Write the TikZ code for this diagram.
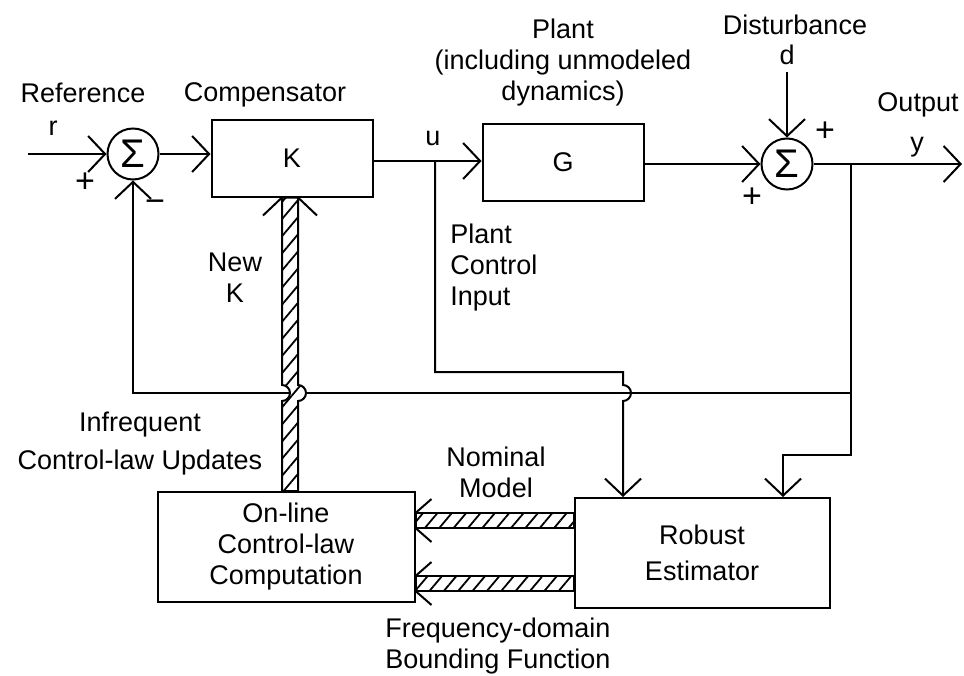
\documentclass[tikz,border=0pt]{standalone}
\usepackage{fontspec}
\setmainfont{Liberation Sans}
\usetikzlibrary{arrows.meta, calc, patterns.meta}

\tikzset{
  blk/.style={draw, line width=1pt, inner sep=0pt, minimum width=80.5pt, minimum height=38.5pt,
    font=\fontsize{13.5}{15.5}\selectfont, align=center},
  sumj/.style={draw, circle, line width=1pt, inner sep=0pt, minimum size=25.5pt,
    font=\fontsize{20}{20}\selectfont},
  wire/.style={line width=1pt},
  sig/.style={wire, -{Straight Barb[length=8.5pt, width=18pt]}},
  hatch/.style={draw, line width=1pt, preaction={fill=white},
    pattern={Lines[angle=50, distance=5.5pt, line width=0.9pt]}},
  lbl/.style={inner sep=0pt, align=center, font=\fontsize{13.5}{15.5}\selectfont},
  sgn/.style={inner sep=0pt, font=\fontsize{17}{17}\selectfont},
}

\begin{document}
\begin{tikzpicture}[x=0.5pt, y=-0.5pt]
  \useasboundingbox (0,0) rectangle (964,675);

  % blocks
  \node[sumj] (s1) at (133,154) {Σ};
  \node[blk] (K) at (292,158) {K};
  \node[blk] (G) at (563,162) {G};
  \node[sumj] (s2) at (787,164) {Σ};
  \node[blk, minimum width=128.5pt, minimum height=55pt] (on) at (286,547)
    {On-line\\Control-law\\Computation};
  \node[blk, minimum width=127.5pt, minimum height=55pt] (est) at (702,553)
    {Robust\\[2.5pt]Estimator};

  % free ends and corners
  \coordinate (r) at (28,154);
  \coordinate (d) at (787,72);
  \coordinate (yo) at (962,164);
  \coordinate (u) at (435,161);
  \coordinate (yb) at (851,164);
  \coordinate (fbl) at (133,393);
  \coordinate (fbr) at (851,393);
  \coordinate (uk) at (623,372);
  \coordinate (yk) at (783,455);

  % main loop
  \draw[sig] (r) -- (s1);
  \draw[sig] (s1) -- (K.west |- s1);
  \draw[wire] (K.east |- u) -- (u);
  \draw[sig] (u) -- (G.west |- u);
  \draw[sig] (G.east |- s2) -- (s2);
  \draw[sig] (d) -- (s2);
  \draw[sig] (s2) -- (yo);

  % feedback and estimator inputs
  \draw[sig] (fbr) -- (fbl) -- (s1);
  \draw[sig] (yb) |- (yk) -- (yk |- est.north);
  \draw[sig] (u) |- (uk) -- ($(uk |- fbl)+(0,-8)$)
    arc[start angle=90, end angle=-90, radius=4pt] -- (uk |- est.north);

  % hatched paths
  \coordinate (bl) at (282,0);
  \coordinate (br) at (298,0);
  \path[hatch] (bl |- on.north) -- (bl |- 0,401)
    arc[start angle=-90, end angle=90, radius=4pt] -- (bl |- K.south)
    -- (br |- K.south) -- (br |- 0,385)
    arc[start angle=90, end angle=-90, radius=4pt] -- (br |- on.north) -- cycle;
  \draw[wire] (bl |- K.south) -- ++(-19,18);
  \draw[wire] (br |- K.south) -- ++(19,18);
  \foreach \ya/\yb in {513/528, 576/591} {
    \path[hatch] (on.east |- 0,\ya) rectangle (est.west |- 0,\yb);
    \draw[wire] (on.east |- 0,\ya) -- ++(16,-14);
    \draw[wire] (on.east |- 0,\yb) -- ++(16,14);
  }

  % labels
  \node[lbl] (reflbl) at (83,93) {Reference};
  \node[lbl] (rlbl) at (53,128) {r};
  \node[sgn] (p1) at (85,183) {+};
  \node[sgn] (m1) at (155,206) {−};
  \node[lbl] (complbl) at (265,95) {Compensator};
  \node[lbl] (ulbl) at (433,138) {u};
  \node[lbl] (plantlbl) at (563,63) {Plant\\(including unmodeled\\dynamics)};
  \node[lbl] (distlbl) at (795,25) {Disturbance};
  \node[lbl] (dlbl) at (787,55) {d};
  \node[sgn] (p2) at (825,132) {+};
  \node[sgn] (p3) at (752,198) {+};
  \node[lbl] (outlbl) at (918,105) {Output};
  \node[lbl] (ylbl) at (917,147) {y};
  \node[lbl, anchor=west, align=left] (pcilbl) at (450,268) {Plant\\Control\\Input};
  \node[lbl] (newklbl) at (235,278) {New\\K};
  \node[lbl] (inflbl) at (140,444) {Infrequent\\[3.5pt]Control-law Updates};
  \node[lbl] (nomlbl) at (496,472) {Nominal\\Model};
  \node[lbl, anchor=west, align=left] (freqlbl) at (385,646) {Frequency-domain\\Bounding Function};
\end{tikzpicture}
\end{document}
